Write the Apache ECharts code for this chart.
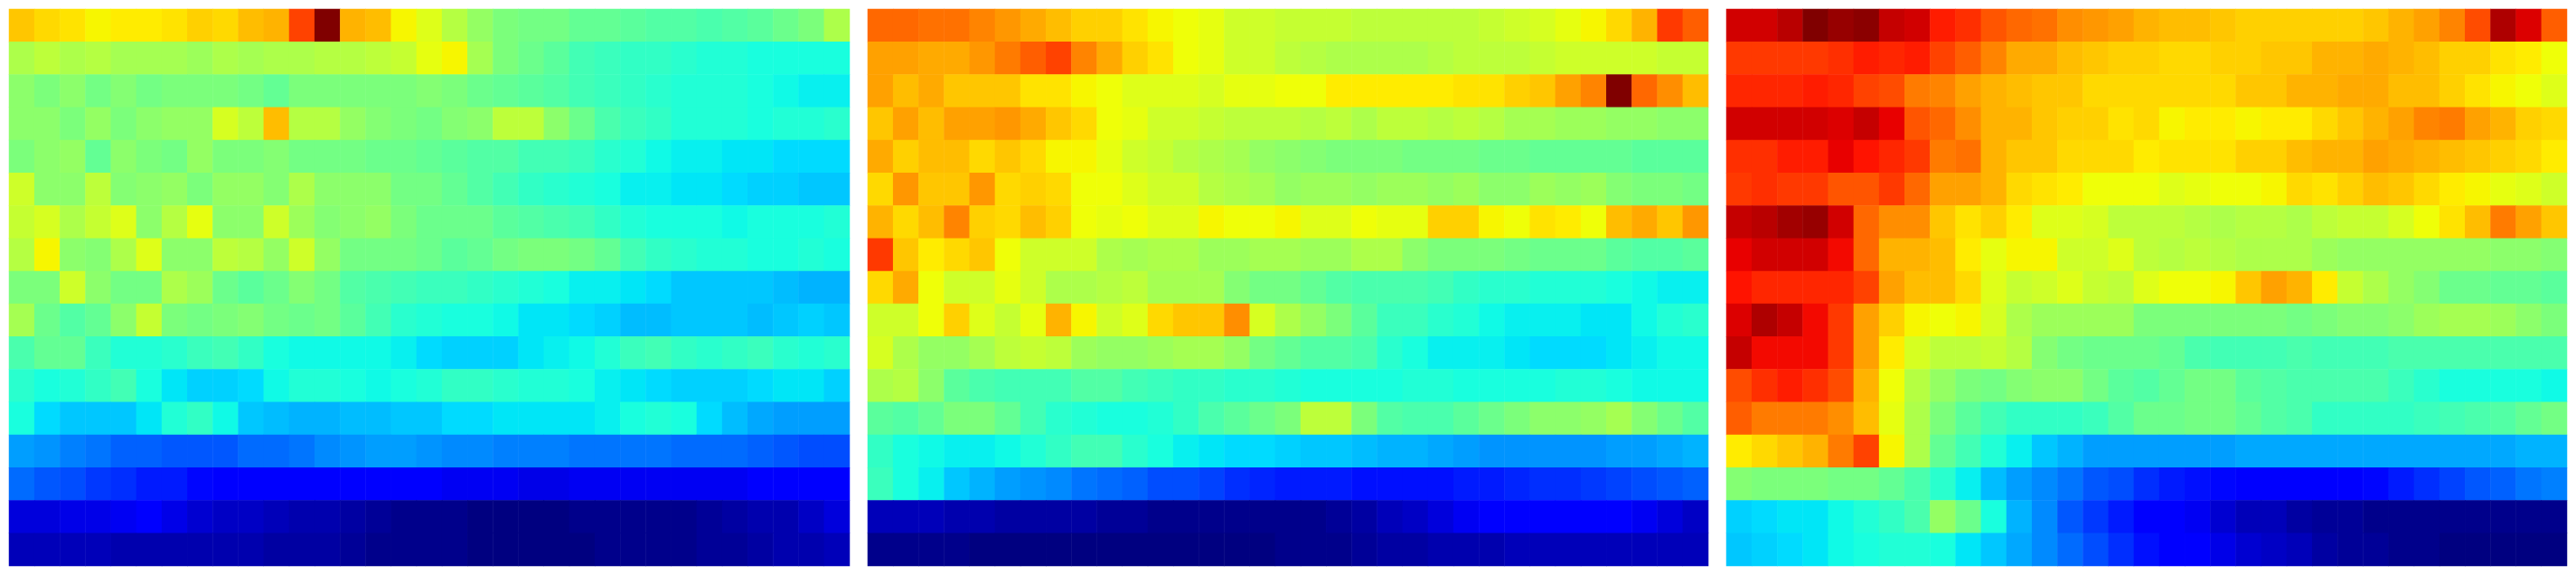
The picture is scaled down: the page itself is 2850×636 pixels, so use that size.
<!DOCTYPE html>
<html>
<head>
<meta charset="utf-8">
<title>Three heatmaps</title>
<script src="https://cdn.jsdelivr.net/npm/echarts@6/dist/echarts.min.js"></script>
<style>html,body{margin:0;padding:0;background:#fff}#chart{width:2850px;height:636px}</style>
</head>
<body>
<div id="chart"></div>
<script>
const columns = Array.from({length: 33}, (_, i) => 'c' + (i + 1));
const rows = Array.from({length: 17}, (_, i) => 'r' + (i + 1));

const panelA = [
[70,68,67,65,66,66,67,69,68,71,72,84,100,72,71,65,62,57,53,50,49,49,47,47,46,45,45,44,45,46,48,50,56],
[56,58,56,57,55,55,55,54,56,55,56,56,57,57,58,59,63,65,55,50,48,46,43,42,41,41,40,39,39,38,38,38,38],
[52,50,52,49,51,49,50,50,50,49,47,50,50,50,50,50,51,50,48,47,46,45,43,42,41,40,39,39,39,38,37,36,36],
[52,52,50,53,50,52,53,53,61,58,71,57,57,53,51,50,49,51,52,58,58,52,48,44,42,41,39,39,39,38,39,39,40],
[50,52,53,47,52,50,49,53,50,50,51,49,49,49,48,48,47,46,45,45,43,43,42,40,39,37,36,36,35,35,34,34,34],
[60,52,52,58,51,52,53,50,53,53,51,56,52,52,52,49,49,47,45,43,41,40,39,38,36,36,35,35,34,33,33,32,32],
[59,61,56,59,62,52,57,63,52,52,60,54,51,52,53,50,48,48,48,46,45,44,43,41,39,38,38,38,37,38,38,38,39],
[57,65,52,51,56,62,52,52,58,57,53,60,53,49,49,49,48,46,47,49,50,50,49,47,43,41,40,39,39,38,38,39,38],
[50,50,60,52,49,49,56,54,48,46,48,51,49,45,44,43,42,42,41,40,39,38,36,36,35,34,32,32,32,32,31,30,30],
[55,48,45,47,52,59,50,49,50,51,49,48,49,46,43,40,39,38,38,37,35,35,34,33,31,31,32,32,32,31,32,33,32],
[44,47,47,42,39,39,40,42,43,41,38,37,37,37,37,36,34,33,33,33,35,36,37,39,42,43,41,40,41,42,40,39,40],
[40,38,39,41,43,38,35,33,33,34,37,39,39,38,37,38,39,41,41,40,39,39,38,36,35,34,33,33,33,34,35,35,33],
[38,34,32,32,32,35,39,41,37,32,31,30,30,31,31,32,32,34,34,35,35,35,35,36,38,39,38,34,31,29,28,28,28],
[28,27,25,24,22,22,21,21,21,23,23,24,26,27,28,28,27,26,26,25,25,25,24,24,24,24,23,23,23,22,21,20,20],
[23,21,20,18,17,15,15,13,12,12,12,12,12,12,12,11,11,10,10,10,9,9,10,10,10,10,10,10,10,11,11,12,12],
[8,8,9,9,10,11,9,7,6,6,5,4,4,3,2,1,1,1,0,0,0,0,1,1,1,1,1,2,3,4,4,6,8],
[5,5,5,5,4,4,4,4,4,4,3,3,3,2,1,1,1,1,0,0,0,0,0,1,1,1,1,2,2,3,4,4,5]
];

const panelB = [
[80,80,79,79,77,75,73,71,69,69,67,65,64,63,60,60,59,59,59,58,58,58,58,58,59,60,61,63,65,68,72,85,81],
[74,74,73,73,75,78,81,84,77,73,69,67,64,63,60,60,58,57,56,56,56,56,57,58,58,58,59,60,60,60,60,59,59],
[74,71,73,70,70,70,67,67,65,64,62,62,62,61,63,63,64,64,66,66,66,66,66,67,67,69,70,74,77,100,80,76,71],
[70,74,71,74,74,75,73,70,68,64,63,60,60,59,58,58,58,57,58,56,58,58,57,58,57,55,55,54,54,53,53,52,52],
[73,69,71,71,68,70,68,65,65,63,60,59,57,56,55,53,52,51,50,50,50,49,49,49,48,48,47,47,47,47,46,46,46],
[68,75,70,70,75,68,69,68,64,64,62,60,60,57,56,55,53,54,54,53,54,54,53,54,52,52,54,53,54,51,50,50,49],
[72,68,71,77,69,68,71,69,64,63,64,62,62,65,64,64,65,62,62,64,63,63,69,69,65,64,67,66,64,71,73,70,75],
[85,70,66,68,70,64,60,60,60,56,55,56,56,54,54,55,55,54,54,56,56,52,50,50,50,49,48,48,48,46,45,45,46],
[68,73,64,60,60,63,60,56,56,57,58,55,55,55,51,49,49,47,45,44,44,44,43,41,40,40,39,39,39,38,37,36,36],
[60,60,64,69,62,59,63,72,65,60,62,68,70,70,76,61,56,53,50,46,42,42,40,39,37,36,36,36,35,35,37,39,40],
[61,56,53,53,55,58,59,58,54,53,53,54,55,55,53,49,47,45,45,44,40,38,36,36,36,35,34,34,34,35,36,37,37],
[56,57,52,46,44,43,43,43,45,45,43,42,41,41,40,40,39,38,38,38,38,39,39,38,38,38,38,39,39,38,37,37,37],
[46,45,47,50,50,47,43,40,39,38,38,39,41,44,46,48,50,58,58,50,45,44,44,46,48,50,52,52,53,55,51,48,45],
[41,38,37,36,36,37,39,41,43,43,40,38,36,35,34,34,33,32,32,31,30,30,29,28,27,27,27,27,27,28,28,29,30],
[42,38,36,32,30,28,27,26,24,23,22,20,20,19,17,16,15,15,15,14,14,14,14,15,15,16,17,17,18,19,20,21,22],
[5,5,5,4,4,3,3,3,3,2,2,1,1,1,1,1,1,1,2,3,5,6,8,10,11,12,12,12,12,11,10,8,6],
[1,1,1,1,0,0,0,0,0,0,0,0,0,0,0,0,1,1,1,2,3,3,4,4,4,5,5,5,5,5,5,5,5]
];

const panelC = [
[93,93,95,100,98,99,94,93,88,86,82,80,79,76,75,74,72,71,71,70,69,69,69,69,69,70,72,74,77,83,96,92,81],
[85,85,85,85,86,88,87,88,84,81,77,73,73,71,70,69,69,68,68,69,69,70,70,72,72,73,72,71,69,69,67,66,64],
[87,87,87,88,87,84,83,78,77,74,72,71,70,70,68,68,68,68,68,68,70,70,72,72,73,73,71,71,69,67,65,64,62],
[93,93,93,93,92,94,91,82,80,76,72,72,70,69,69,67,68,65,66,66,65,66,66,68,70,72,74,77,78,74,72,69,68],
[86,86,88,88,91,89,87,85,78,79,72,70,70,68,68,68,66,67,67,67,69,69,71,72,72,74,73,72,71,70,69,68,66],
[85,86,85,85,82,82,85,80,74,74,72,68,67,66,64,64,64,62,63,64,64,65,68,67,69,71,70,68,66,65,63,62,60],
[94,95,97,98,93,80,76,76,70,67,69,66,62,62,61,58,58,58,57,56,57,57,56,58,59,59,61,64,67,71,78,74,70],
[91,93,93,93,90,80,72,72,71,66,63,65,65,60,60,62,58,57,58,57,56,56,56,54,53,53,53,53,53,53,52,52,51],
[89,87,87,87,87,84,74,71,71,68,62,59,60,62,59,58,62,64,64,65,70,74,72,66,59,56,53,51,48,48,47,47,46],
[92,96,94,90,85,74,69,65,64,65,61,56,54,54,54,54,50,50,50,50,50,50,49,50,51,51,52,54,55,55,54,52,50],
[94,90,90,90,85,74,66,61,58,58,59,57,51,49,48,48,48,47,44,43,43,43,44,43,43,43,44,44,44,44,44,44,44],
[83,86,88,86,83,72,64,57,53,50,49,51,52,52,49,46,45,47,49,49,46,45,44,44,44,44,42,40,38,38,38,38,37],
[81,78,78,78,76,71,63,56,50,46,43,41,41,41,42,45,48,48,49,49,47,45,44,41,41,41,41,42,43,44,45,47,49],
[66,68,70,72,78,84,65,56,47,43,39,36,32,30,28,28,28,28,28,28,29,29,29,29,29,29,29,29,29,29,29,30,30],
[51,50,50,50,49,49,47,44,40,36,31,28,26,24,21,20,17,15,14,13,12,12,12,12,12,13,15,17,19,21,22,24,25],
[33,34,35,35,37,39,41,44,53,48,38,30,26,21,18,15,12,11,10,7,5,5,3,2,2,1,1,1,1,1,1,1,1],
[32,33,34,35,37,38,39,39,38,35,32,29,26,23,20,17,14,12,11,9,7,6,5,3,2,2,1,1,0,0,0,0,0]
];

// Jet colour map breakpoints: [position 0-100, channel value 0-1]
const jetRed = [[0,0],[35,0],[66,1],[89,1],[100,.5]];
const jetGreen = [[0,0],[12.5,0],[37.5,1],[64,1],[91,0],[100,0]];
const jetBlue = [[0,.5],[11,1],[34,1],[65,0],[100,0]];

function channel(stops, v) {
  for (let i = 1; i < stops.length; i++) {
    if (v <= stops[i][0]) {
      const a = stops[i - 1], b = stops[i];
      return a[1] + (b[1] - a[1]) * (v - a[0]) / (b[0] - a[0]);
    }
  }
  return stops[stops.length - 1][1];
}
const jetColors = [];
for (let v = 0; v <= 100; v++) {
  const c = s => Math.round(channel(s, v) * 255);
  jetColors.push('rgb(' + c(jetRed) + ',' + c(jetGreen) + ',' + c(jetBlue) + ')');
}

const panels = [panelA, panelB, panelC];
const panelLeft = [10, 960, 1910];

const grid = [], xAxis = [], yAxis = [], series = [];
panels.forEach((panel, p) => {
  grid.push({left: panelLeft[p], top: 10, width: 930, height: 616, containLabel: false, show: false});
  xAxis.push({type: 'category', gridIndex: p, data: columns, show: false});
  yAxis.push({type: 'category', gridIndex: p, data: rows, inverse: true, show: false});
  const data = [];
  panel.forEach((row, r) => row.forEach((v, c) => data.push([c, r, v])));
  series.push({
    type: 'heatmap', xAxisIndex: p, yAxisIndex: p, data,
    itemStyle: {borderWidth: 0}, progressive: 0, animation: false,
    emphasis: {disabled: true}
  });
});

const chart = echarts.init(document.getElementById('chart'), null, {renderer: 'canvas'});
chart.setOption({
  backgroundColor: '#ffffff',
  animation: false,
  tooltip: {show: false},
  grid, xAxis, yAxis, series,
  visualMap: {
    show: false, type: 'continuous', min: 0, max: 100,
    seriesIndex: [0, 1, 2], dimension: 2,
    inRange: {color: jetColors}
  }
});
</script>
</body>
</html>
